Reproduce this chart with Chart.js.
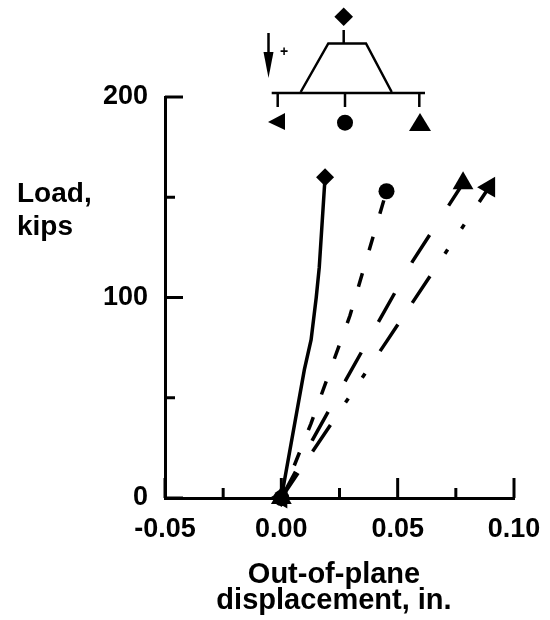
<!DOCTYPE html>
<html lang="en">
<head>
  <meta charset="UTF-8" />
  <title>Load vs out-of-plane displacement</title>
  <script src="https://cdn.jsdelivr.net/npm/chart.js"></script>
  <style>
    html, body { margin: 0; background: #fff; }
  </style>
</head>
<body>
  <canvas id="chartCanvas" width="550" height="620"></canvas>

  <script>
    // values: x = displacement (in.), y = load (kips)
    const solidX = [0, 0.0099, 0.0128, 0.015, 0.0163, 0.0188];
    const solidY = [0, 64, 79, 100, 115, 160];
    const circleX = [0, 0.0127, 0.0295, 0.0452];
    const circleY = [0, 37, 91, 153];
    const triangleX = [0, 0.0134, 0.0278, 0.0418, 0.0564, 0.0781];
    const triangleY = [0, 29, 59, 88, 118, 157];
    const arrowX = [0, 0.0452, 0.0893];
    const arrowY = [0, 78, 155];

    const xTicksMajor = [-0.05, 0, 0.05, 0.1];
    const xTicksMinor = [-0.025, 0.025, 0.075];
    const yTicksMajor = [0, 100, 200];
    const yTicksMinor = [50, 150];

    const BLACK = '#000';
    const FONT = '"Liberation Sans", Arial, sans-serif';

    function toPoints(xs, ys) {
      return xs.map((x, i) => ({ x, y: ys[i] }));
    }

    // inward ticks + text + the little schematic above the plot
    const extras = {
      id: 'extras',
      afterDraw(chart) {
        const ctx = chart.ctx;
        const xs = chart.scales.x, ys = chart.scales.y;
        ctx.save();
        ctx.strokeStyle = BLACK;
        ctx.fillStyle = BLACK;
        ctx.lineWidth = 3;

        xTicksMajor.concat(xTicksMinor).forEach(v => {
          const len = xTicksMajor.includes(v) ? 20 : 10;
          const px = xs.getPixelForValue(v);
          line(ctx, px, ys.bottom, px, ys.bottom - len);
        });
        yTicksMajor.concat(yTicksMinor).forEach(v => {
          const len = yTicksMajor.includes(v) ? 18 : 10;
          const py = ys.getPixelForValue(v);
          line(ctx, xs.left, py, xs.left + len, py);
        });

        ctx.font = 'bold 28px ' + FONT;
        ctx.textBaseline = 'middle';
        ctx.fillText('Load,', 17, 194);
        ctx.fillText('kips', 17, 227);

        ctx.font = 'bold 29px ' + FONT;
        ctx.textAlign = 'center';
        ctx.fillText('Out-of-plane', 334, 575);
        ctx.fillText('displacement, in.', 334, 601);
        ctx.textAlign = 'left';

        // schematic
        ctx.lineWidth = 2.5;
        line(ctx, 343.7, 30, 343.7, 44);
        ctx.beginPath();
        ctx.moveTo(300.7, 92);
        ctx.lineTo(328.3, 43.5);
        ctx.lineTo(366, 43.5);
        ctx.lineTo(391.7, 92);
        ctx.stroke();
        line(ctx, 271.7, 93, 425, 93);
        line(ctx, 277.7, 93, 277.7, 107);
        line(ctx, 345, 93, 345, 107);
        line(ctx, 419.3, 93, 419.3, 107);
        line(ctx, 268.5, 33, 268.5, 60);

        poly(ctx, [[343.7, 7.5], [353, 16.7], [343.7, 26], [334.4, 16.7]]);
        poly(ctx, [[263.5, 52], [273.5, 52], [268.5, 78]]);
        poly(ctx, [[268, 122], [285, 113], [285, 130]]);
        poly(ctx, [[420, 113], [431, 131], [409, 131]]);
        ctx.beginPath();
        ctx.arc(345, 122.7, 8, 0, Math.PI * 2);
        ctx.fill();

        ctx.font = 'bold 14px ' + FONT;
        ctx.textAlign = 'center';
        ctx.fillText('+', 284, 52);
        ctx.restore();
      }
    };

    function line(ctx, x1, y1, x2, y2) {
      ctx.beginPath();
      ctx.moveTo(x1, y1);
      ctx.lineTo(x2, y2);
      ctx.stroke();
    }

    function poly(ctx, pts) {
      ctx.beginPath();
      pts.forEach((p, i) => i ? ctx.lineTo(p[0], p[1]) : ctx.moveTo(p[0], p[1]));
      ctx.closePath();
      ctx.fill();
    }

    function series(xs, ys, dash, offset, style, radius, rotation) {
      return {
        data: toPoints(xs, ys),
        borderColor: BLACK,
        backgroundColor: BLACK,
        borderWidth: 3.5,
        borderDash: dash,
        borderDashOffset: offset,
        tension: 0,
        clip: false,
        pointStyle: style,
        pointRotation: rotation || 0,
        pointBorderWidth: 0,
        // markers only at the two ends of each curve
        pointRadius: ctx => (ctx.dataIndex === 0 || ctx.dataIndex === xs.length - 1) ? radius : 0
      };
    }

    new Chart(document.getElementById('chartCanvas').getContext('2d'), {
      type: 'line',
      data: {
        datasets: [
          series(solidX, solidY, [], 0, 'rectRot', 9),
          series(circleX, circleY, [14, 24], 3, 'circle', 8),
          series(triangleX, triangleY, [33, 35], 3, 'triangle', 12),
          series(arrowX, arrowY, [32, 26, 32, 27, 5, 25, 5, 27], 2, 'triangle', 12, -90)
        ]
      },
      options: {
        responsive: false,
        animation: false,
        layout: { padding: { left: 0, right: 36, top: 97, bottom: 0 } },
        plugins: { legend: { display: false }, tooltip: { enabled: false } },
        scales: {
          x: {
            type: 'linear',
            min: -0.05,
            max: 0.1,
            afterFit: s => { s.height = 122; s.paddingLeft = 0; s.paddingRight = 0; },
            afterBuildTicks: s => { s.ticks = xTicksMajor.map(v => ({ value: v })); },
            grid: { drawOnChartArea: false, drawTicks: false },
            border: { color: BLACK, width: 3 },
            ticks: {
              color: BLACK,
              autoSkip: false,
              maxRotation: 0,
              padding: 15,
              font: { family: FONT, size: 27, weight: 'bold' },
              callback: v => v.toFixed(2)
            }
          },
          y: {
            type: 'linear',
            min: 0,
            max: 200,
            afterFit: s => { s.width = 165; s.paddingTop = 0; s.paddingBottom = 0; },
            afterBuildTicks: s => { s.ticks = yTicksMajor.map(v => ({ value: v })); },
            grid: { drawOnChartArea: false, drawTicks: false },
            border: { color: BLACK, width: 3 },
            ticks: {
              color: BLACK,
              autoSkip: false,
              padding: 17,
              font: { family: FONT, size: 27, weight: 'bold' }
            }
          }
        }
      },
      plugins: [extras]
    });
  </script>
</body>
</html>
